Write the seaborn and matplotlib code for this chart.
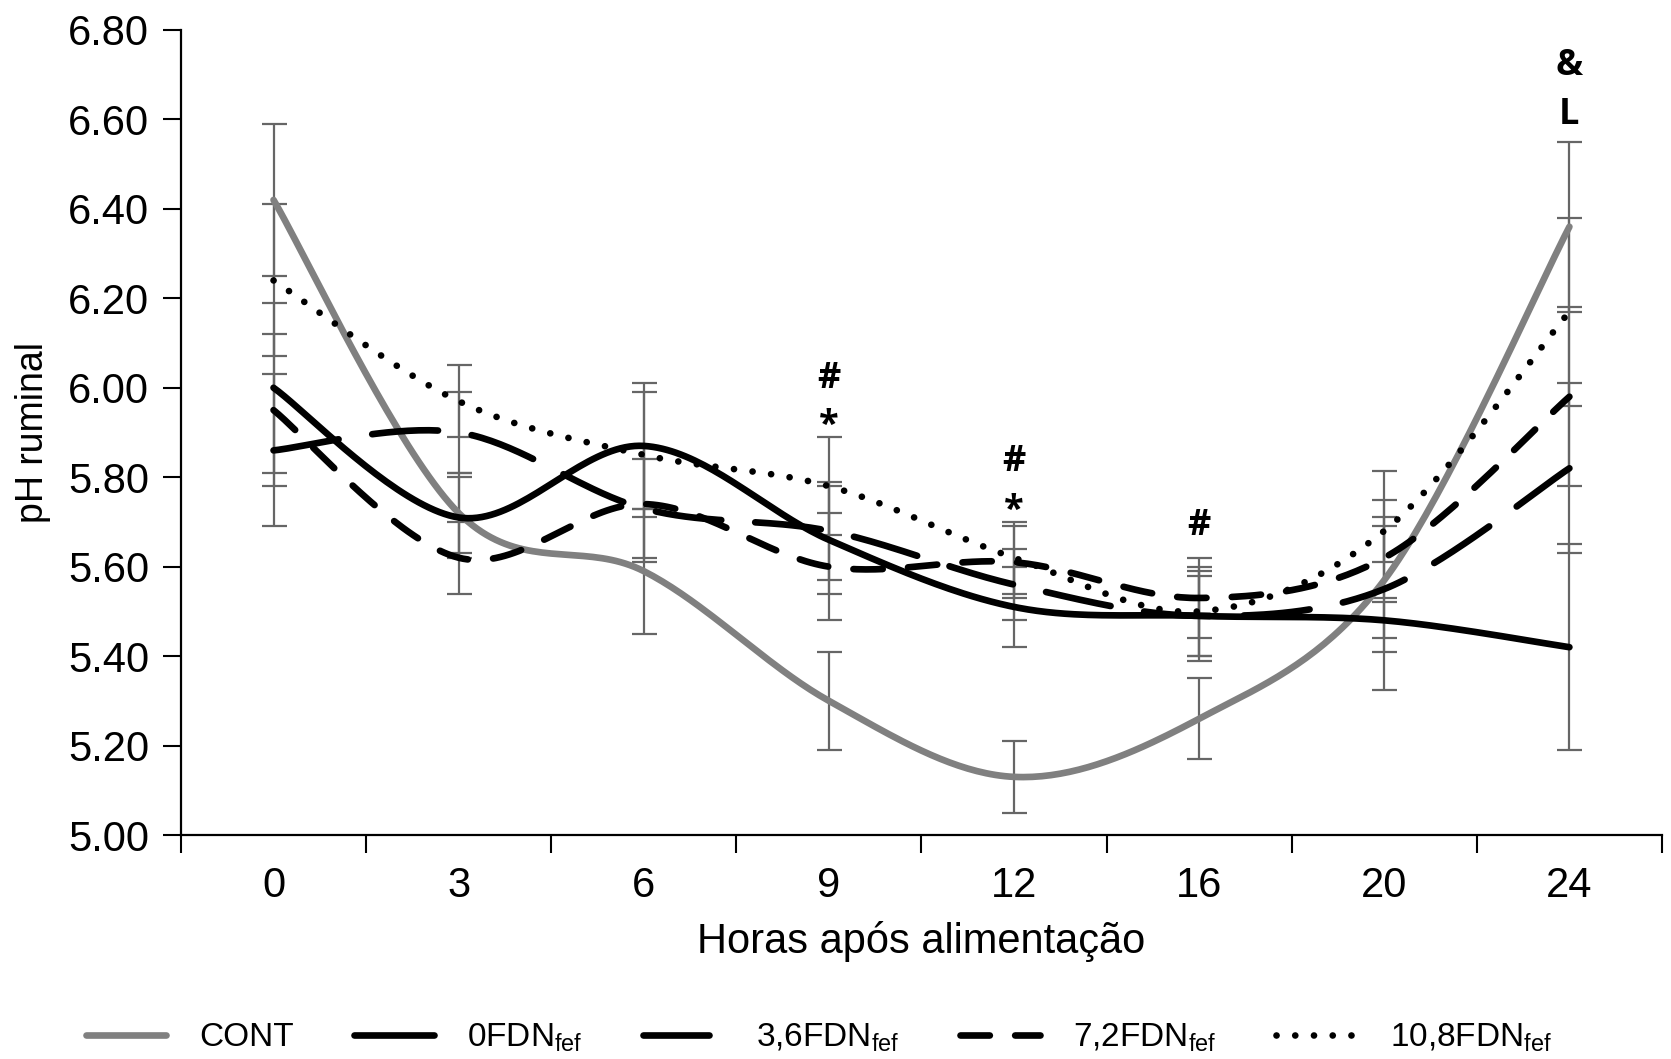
import numpy as np
import pandas as pd
import seaborn as sns
import matplotlib.pyplot as plt

# horas apos alimentacao (eixo categorico)
horas = ["0", "3", "6", "9", "12", "16", "20", "24"]

cont_mean = [6.42, 5.72, 5.59, 5.30, 5.13, 5.26, 5.57, 6.36]
cont_se = [0.17, 0.09, 0.14, 0.11, 0.08, 0.09, 0.245, 0.19]
fdn0_mean = [6.00, 5.71, 5.87, 5.66, 5.51, 5.49, 5.48, 5.42]
fdn0_se = [0.19, 0.09, 0.14, 0.12, 0.09, 0.09, 0.04, 0.23]
fdn36_mean = [5.86, 5.90, 5.73, 5.68, 5.56, 5.49, 5.55, 5.82]
fdn36_se = [0.17, 0.09, 0.11, 0.11, 0.08, 0.10, 0.14, 0.19]
fdn72_mean = [5.95, 5.62, 5.74, 5.60, 5.61, 5.53, 5.62, 5.98]
fdn72_se = [0.17, 0.08, 0.13, 0.12, 0.08, 0.09, 0.09, 0.20]
fdn108_mean = [6.24, 5.97, 5.85, 5.78, 5.62, 5.50, 5.68, 6.17]
fdn108_se = [0.17, 0.08, 0.14, 0.11, 0.08, 0.10, 0.07, 0.21]

series_names = ["CONT", "0FDN$_{\\mathregular{fef}}$", "3,6FDN$_{\\mathregular{fef}}$",
                "7,2FDN$_{\\mathregular{fef}}$", "10,8FDN$_{\\mathregular{fef}}$"]
means = [cont_mean, fdn0_mean, fdn36_mean, fdn72_mean, fdn108_mean]
ses = [cont_se, fdn0_se, fdn36_se, fdn72_se, fdn108_se]

# letras de significancia
annot_x = [3, 3, 4, 4, 5, 7, 7]
annot_txt = ["#", "*", "#", "*", "#", "&", "L"]
annot_y = [6.02, 5.915, 5.835, 5.725, 5.69, 6.72, 6.61]


def excel_smooth(y, n=40):
    # bezier suavizada estilo Excel (catmull-rom, tensao 1/6)
    pts = np.column_stack([np.arange(len(y)), y]).astype(float)
    ext = np.vstack([pts[0], pts, pts[-1]])
    xs, ys = [], []
    for i in range(len(pts) - 1):
        p0, p1, p2, p3 = ext[i], ext[i + 1], ext[i + 2], ext[i + 3]
        c1 = p1 + (p2 - p0) / 6
        c2 = p2 - (p3 - p1) / 6
        t = np.linspace(0, 1, n, endpoint=(i == len(pts) - 2))[:, None]
        b = (1 - t) ** 3 * p1 + 3 * (1 - t) ** 2 * t * c1 + 3 * (1 - t) * t ** 2 * c2 + t ** 3 * p2
        xs.append(b[:, 0])
        ys.append(b[:, 1])
    return np.concatenate(xs), np.concatenate(ys)


rows = []
for name, m in zip(series_names, means):
    sx, sy = excel_smooth(m)
    rows.append(pd.DataFrame({"x": sx, "ph": sy, "trat": name}))
df = pd.concat(rows, ignore_index=True)

sns.set_style("white")
plt.rcParams["font.family"] = ["Liberation Sans", "DejaVu Sans"]
plt.rcParams["text.color"] = "black"
plt.rcParams["axes.labelcolor"] = "black"
plt.rcParams["xtick.color"] = "black"
plt.rcParams["ytick.color"] = "black"

fig = plt.figure(figsize=(16.71, 10.59), dpi=100)
ax = fig.add_axes([0.1083, 0.2115, 0.8863, 0.7602])

xi = np.arange(len(horas))
for m, s in zip(means, ses):
    ax.errorbar(xi, m, yerr=s, fmt="none", ecolor="#666666", elinewidth=1.6,
                capsize=9, capthick=1.6, zorder=1)

palette = dict(zip(series_names, ["#808080", "black", "black", "black", "black"]))
dashes = dict(zip(series_names, ["", "", (9.9, 5.1), (4.4, 3.8), (0.01, 2.8)]))
sns.lineplot(data=df, x="x", y="ph", hue="trat", style="trat", palette=palette,
             dashes=dashes, sort=False, estimator=None, linewidth=4.8,
             dash_capstyle="round", ax=ax, zorder=3)

for x, t, y in zip(annot_x, annot_txt, annot_y):
    ax.text(x, y, t, ha="center", va="center", fontsize=26, fontweight="bold",
            family=["Open Sans", "DejaVu Sans"])

ax.set_xlim(-0.5, len(horas) - 0.5)
ax.set_ylim(5.0, 6.8)
ax.set_yticks(np.arange(5.0, 6.81, 0.2))
ax.set_yticklabels([f"{v:.2f}" for v in np.arange(5.0, 6.81, 0.2)])
ax.set_xticks(xi)
ax.set_xticklabels(horas)
ax.set_xticks(np.arange(-0.5, len(horas)), minor=True)
ax.tick_params(axis="x", which="major", length=0, labelsize=30, pad=22)
ax.tick_params(axis="x", which="minor", length=13, width=1.5, direction="out", bottom=True)
ax.tick_params(axis="y", length=13, width=1.5, direction="out", left=True, labelsize=30, pad=10)

ax.set_xlabel("Horas após alimentação", fontsize=30, labelpad=11)
ax.set_ylabel("pH ruminal", fontsize=27, labelpad=12)

sns.despine(ax=ax)
for sp in ["left", "bottom"]:
    ax.spines[sp].set_linewidth(1.6)
    ax.spines[sp].set_color("black")

handles, labels = ax.get_legend_handles_labels()
ax.get_legend().remove()
fig.legend(handles, labels, loc="center", bbox_to_anchor=(0.49, 0.02), ncol=5,
           frameon=False, fontsize=24, handlelength=2.4, columnspacing=1.8,
           handletextpad=1.0)

fig.savefig("out.png", dpi=100)
